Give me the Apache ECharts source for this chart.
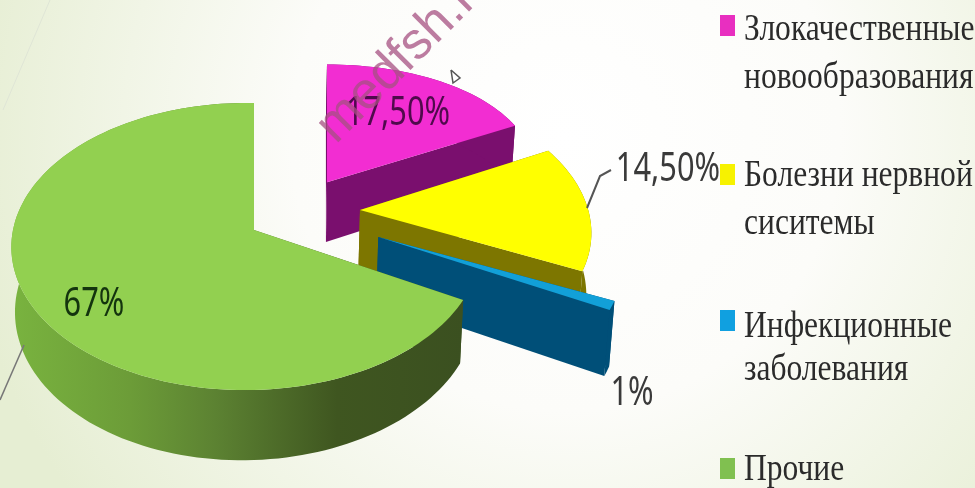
<!DOCTYPE html>
<html>
<head>
<meta charset="utf-8">
<style>html,body{margin:0;padding:0}#chart{width:975px;height:488px}</style>
<script src="https://cdn.jsdelivr.net/npm/echarts@6/dist/echarts.min.js"></script>
</head>
<body>
<div id="chart"></div>
<script>
// Disease shares, in percent
const categories = ['Злокачественные\nновообразования', 'Болезни нервной\nсиситемы', 'Инфекционные\nзаболевания', 'Прочие'];
const shares = [17.5, 14.5, 1, 67];
const shareLabels = ['17,50%', '14,50%', '1%', '67%'];

// Slice colours: top face, legend swatch, side wall
const topColors = ['#f22dd2', '#ffff00', '#12a0d8', '#92d050'];
const swatchColors = ['#e82fc0', '#f7f200', '#10a0e0', '#80c050'];
const sideColors = ['#7a0f6e', '#7d7600', '#004f78', null];

// Pie projected on a tilted plane, with a small perspective term
const centre = { x: 254, y: 230 };
const radiusY = 141.6;
const perspective = 0.115;
const depth = 62;
const bottomNarrow = 0.985;
// Per-slice pull-out on the pie plane, plus width, sideways lean and horizontal foreshortening
const pullOut = [[0.346, -0.35], [0.4644, -0.1436], [0.515, 0.049], [0, 0]];
const radiusX = [211, 232, 240, 232.7];
const lean = [0, 0, 0, 0.0345];
const foreshorten = [0, 1, 1, 1];

const greenWall = {
  type: 'linear', x: 13, y: 0, x2: 463, y2: 0, global: true,
  colorStops: [
    { offset: 0, color: '#79b33f' }, { offset: 0.26, color: '#6c9c38' },
    { offset: 0.45, color: '#5c8232' }, { offset: 0.72, color: '#3f5620' },
    { offset: 1, color: '#3b5020' }
  ]
};

function project(i, u, v) {
  const s = 1 / (1 - perspective * v + lean[i] * u);
  const sx = 1 + (s - 1) * foreshorten[i];
  return [centre.x + radiusX[i] * u * sx, centre.y + radiusY * v * s, s];
}
function lower(p) {
  return [centre.x + (p[0] - centre.x) * bottomNarrow, p[1] + depth * p[2]];
}
function renderSlice(params, api) {
  const i = params.dataIndex;
  const value = api.value(0);
  const total = shares.reduce((a, b) => a + b, 0);
  const before = shares.slice(0, i).reduce((a, b) => a + b, 0);
  const a0 = before / total * Math.PI * 2;
  const a1 = (before + value) / total * Math.PI * 2;
  const [ox, oy] = pullOut[i];
  const apex = project(i, ox, oy);
  const arc = [];
  const steps = Math.max(6, Math.round(value * 2));
  for (let k = 0; k <= steps; k++) {
    const a = a0 + (a1 - a0) * k / steps;
    arc.push(project(i, ox + Math.sin(a), oy - Math.cos(a)));
  }
  const side = sideColors[i] || greenWall;
  const poly = (points, fill) => ({
    type: 'polygon',
    shape: { points: points.map(p => [p[0], p[1]]) },
    style: { fill: fill }
  });
  const first = arc[0], last = arc[arc.length - 1];
  return {
    type: 'group',
    children: [
      poly([apex, first, lower(first), lower(apex)], side),
      poly([apex, last, lower(last), lower(apex)], side),
      poly(arc.concat(arc.map(lower).reverse()), side),
      poly([apex].concat(arc), topColors[i])
    ]
  };
}

// Side legend and value captions
const legendSwatchY = [15, 164, 310, 458];
const legendLineY = [[30, 78], [176, 224], [327, 370], [470]];
const captionPos = [[398, 114], [668, 170], [632, 394], [94, 305]];
const captionColors = ['#4f0a4c', '#3a3a3a', '#3a3a3a', '#14340e'];

const graphics = [];
categories.forEach((name, i) => {
  graphics.push({
    type: 'rect', z: 10, shape: { x: 720, y: legendSwatchY[i], width: 15, height: 21 },
    style: { fill: swatchColors[i] }
  });
  name.split('\n').forEach((line, j) => graphics.push({
    type: 'text', z: 10, x: 744, y: legendLineY[i][j], scaleX: 0.83,
    style: {
      text: line, fill: '#2b2b2b', fontFamily: 'Liberation Serif', fontSize: 38,
      verticalAlign: 'middle', textAlign: 'left'
    }
  }));
});
shareLabels.forEach((text, i) => graphics.push({
  type: 'text', z: 10, x: captionPos[i][0], y: captionPos[i][1], scaleX: 0.77,
  style: {
    text: text, fill: captionColors[i], fontFamily: 'Noto Sans', fontSize: 40,
    verticalAlign: 'middle', textAlign: 'center'
  }
}));

const leaderStyle = { stroke: '#555555', lineWidth: 2, fill: null };
graphics.push(
  { type: 'polyline', z: 10, shape: { points: [[587, 208], [600, 176], [611, 170]] }, style: leaderStyle },
  { type: 'polyline', z: 10, shape: { points: [[24, 345], [0, 400]] }, style: { stroke: '#777777', lineWidth: 1.5, fill: null } },
  { type: 'polyline', z: 10, shape: { points: [[451, 70], [453, 83], [460, 78], [451, 70]] }, style: { stroke: '#555555', lineWidth: 1.5, fill: '#ffffff' } },
  { type: 'polyline', z: 1, shape: { points: [[50, 0], [3, 110]] }, style: { stroke: '#dfe5d6', lineWidth: 1, fill: null } },
  {
    type: 'text', x: 344, y: 153, rotation: Math.PI / 4, z: 20,
    style: {
      text: 'medfsh.ru', fill: 'rgba(165,80,130,0.75)', fontFamily: 'Liberation Sans', fontSize: 52,
      textAlign: 'left', verticalAlign: 'bottom'
    }
  }
);

const chart = echarts.init(document.getElementById('chart'), null, { renderer: 'canvas' });
chart.setOption({
  animation: false,
  backgroundColor: {
    type: 'radial', x: 0.58, y: 0.28, r: 1.25,
    colorStops: [
      { offset: 0, color: '#ffffff' }, { offset: 0.45, color: '#fcfcf9' },
      { offset: 1, color: '#e6eed3' }
    ]
  },
  series: [{
    type: 'custom',
    coordinateSystem: 'none',
    renderItem: renderSlice,
    data: shares.map(v => [v]),
    silent: true
  }],
  graphic: graphics
});
</script>
</body>
</html>
